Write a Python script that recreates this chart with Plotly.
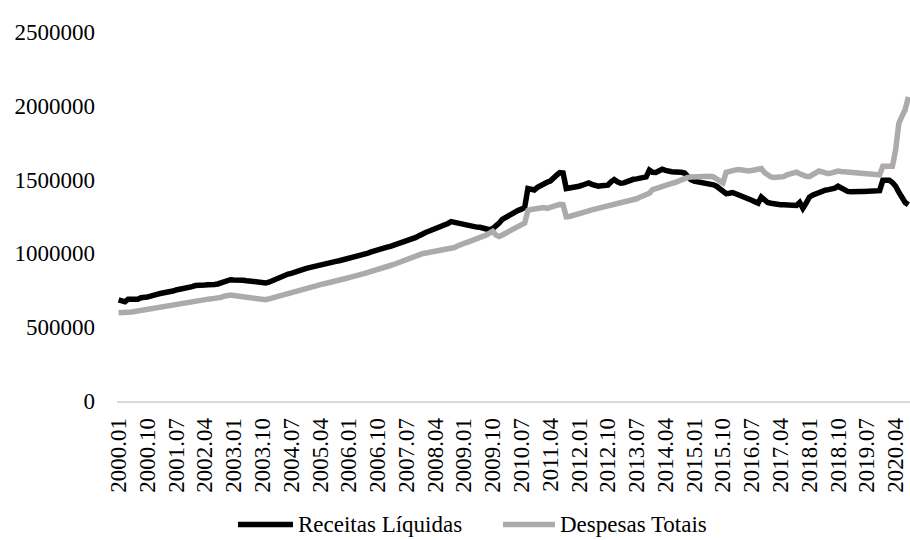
import plotly.graph_objects as go

# Monthly periods 2000.01 .. 2020.08
years = list(range(2000, 2021))
months = [f"{y}.{m:02d}" for y in years for m in range(1, 13)][:248]

# Receitas Líquidas, one row per year
receitas = [
    685000, 680000, 672000, 690000, 688000, 684000, 690000, 700000, 698000, 705000, 710000, 712000,
    722000, 728000, 730000, 736000, 740000, 745000, 752000, 755000, 760000, 762000, 768000, 775000,
    782000, 786000, 784000, 786000, 788000, 785000, 790000, 793000, 800000, 812000, 818000, 822000,
    820000, 822000, 818000, 818000, 815000, 812000, 810000, 808000, 803000, 800000, 800000, 805000,
    815000, 828000, 838000, 845000, 852000, 860000, 865000, 870000, 878000, 885000, 893000, 900000,
    906000, 910000, 915000, 920000, 926000, 930000, 935000, 940000, 946000, 950000, 955000, 960000,
    965000, 970000, 975000, 982000, 989000, 995000, 1002000, 1010000, 1018000, 1025000, 1030000, 1036000,
    1042000, 1048000, 1055000, 1060000, 1068000, 1075000, 1082000, 1088000, 1095000, 1108000, 1120000, 1135000,
    1142000, 1150000, 1158000, 1166000, 1174000, 1181000, 1192000, 1203000, 1215000, 1210000, 1203000, 1198000,
    1192000, 1186000, 1182000, 1180000, 1178000, 1177000, 1172000, 1165000, 1160000, 1168000, 1185000, 1205000,
    1231000, 1245000, 1258000, 1270000, 1282000, 1292000, 1300000, 1312000, 1440000, 1435000, 1430000, 1448000,
    1463000, 1472000, 1482000, 1490000, 1505000, 1530000, 1548000, 1545000, 1440000, 1442000, 1445000, 1448000,
    1455000, 1462000, 1470000, 1478000, 1468000, 1458000, 1455000, 1458000, 1460000, 1462000, 1485000, 1500000,
    1485000, 1475000, 1478000, 1488000, 1495000, 1502000, 1505000, 1510000, 1515000, 1518000, 1565000, 1550000,
    1548000, 1560000, 1570000, 1562000, 1555000, 1553000, 1552000, 1554000, 1550000, 1545000, 1520000, 1500000,
    1490000, 1486000, 1482000, 1480000, 1478000, 1475000, 1465000, 1455000, 1440000, 1425000, 1405000, 1408000,
    1412000, 1404000, 1396000, 1390000, 1384000, 1372000, 1360000, 1350000, 1340000, 1382000, 1365000, 1345000,
    1340000, 1335000, 1332000, 1330000, 1330000, 1328000, 1326000, 1325000, 1325000, 1345000, 1305000, 1340000,
    1380000, 1395000, 1405000, 1415000, 1420000, 1428000, 1432000, 1435000, 1442000, 1455000, 1440000, 1425000,
    1420000, 1418000, 1416000, 1418000, 1420000, 1420000, 1422000, 1420000, 1422000, 1425000, 1425000, 1495000,
    1498000, 1495000, 1480000, 1455000, 1415000, 1375000, 1345000, 1330000,
]

# Despesas Totais, one row per year
despesas = [
    598000, 597000, 600000, 602000, 603000, 606000, 610000, 615000, 618000, 620000, 624000, 627000,
    632000, 635000, 638000, 642000, 645000, 648000, 652000, 656000, 660000, 665000, 670000, 674000,
    678000, 682000, 685000, 688000, 690000, 692000, 694000, 696000, 702000, 710000, 716000, 718000,
    715000, 712000, 708000, 704000, 700000, 697000, 694000, 691000, 688000, 685000, 686000, 692000,
    698000, 705000, 712000, 718000, 725000, 732000, 740000, 748000, 753000, 758000, 765000, 770000,
    775000, 780000, 784000, 788000, 793000, 798000, 802000, 807000, 812000, 818000, 824000, 830000,
    836000, 840000, 845000, 850000, 858000, 865000, 872000, 880000, 888000, 895000, 902000, 908000,
    912000, 918000, 925000, 932000, 940000, 948000, 956000, 965000, 975000, 982000, 990000, 998000,
    1002000, 1006000, 1010000, 1012000, 1015000, 1018000, 1022000, 1025000, 1030000, 1040000, 1050000, 1062000,
    1068000, 1075000, 1082000, 1090000, 1098000, 1105000, 1115000, 1125000, 1138000, 1150000, 1125000, 1115000,
    1125000, 1138000, 1150000, 1162000, 1175000, 1185000, 1195000, 1205000, 1290000, 1298000, 1302000, 1300000,
    1305000, 1310000, 1305000, 1312000, 1318000, 1328000, 1332000, 1330000, 1248000, 1250000, 1255000, 1262000,
    1268000, 1275000, 1282000, 1288000, 1295000, 1300000, 1305000, 1310000, 1316000, 1322000, 1328000, 1332000,
    1336000, 1340000, 1345000, 1350000, 1356000, 1362000, 1370000, 1380000, 1390000, 1400000, 1408000, 1432000,
    1440000, 1450000, 1460000, 1465000, 1470000, 1475000, 1480000, 1490000, 1505000, 1510000, 1515000, 1518000,
    1520000, 1522000, 1520000, 1518000, 1520000, 1522000, 1518000, 1505000, 1492000, 1478000, 1550000, 1558000,
    1562000, 1566000, 1568000, 1562000, 1560000, 1558000, 1562000, 1568000, 1570000, 1575000, 1548000, 1530000,
    1518000, 1515000, 1514000, 1512000, 1520000, 1532000, 1540000, 1545000, 1550000, 1540000, 1528000, 1522000,
    1520000, 1535000, 1545000, 1558000, 1552000, 1545000, 1540000, 1545000, 1552000, 1558000, 1555000, 1552000,
    1550000, 1548000, 1546000, 1545000, 1544000, 1542000, 1540000, 1538000, 1536000, 1534000, 1532000, 1590000,
    1590000, 1592000, 1590000, 1700000, 1880000, 1930000, 1975000, 2060000,
]

series_names = ["Receitas Líquidas", "Despesas Totais"]
series_colors = ["#000000", "#AEAAAA"]

# Every ninth month is labelled on the category axis
tick_labels = months[::9]
y_ticks = [0, 500000, 1000000, 1500000, 2000000, 2500000]

FONT = "'Times New Roman', 'Liberation Serif', serif"
TICK_FONT = dict(family=FONT, size=23, color="#000000")
LINE_W = 5.5

fig = go.Figure()
for name, values, color in zip(series_names, [receitas, despesas], series_colors):
    fig.add_trace(go.Scatter(
        x=months, y=values, mode="lines", name=name,
        line=dict(color=color, width=LINE_W), showlegend=False,
    ))

# Legend below the axis: long key lines followed by the series names
legend_y = -0.335
legend_keys = [(0.1526, 0.2219), (0.4868, 0.5523)]
for (x0, x1), name, color in zip(legend_keys, series_names, series_colors):
    fig.add_shape(type="line", xref="paper", yref="paper",
                  x0=x0, x1=x1, y0=legend_y, y1=legend_y,
                  line=dict(color=color, width=LINE_W))
    fig.add_annotation(xref="paper", yref="paper", x=x1 + 0.004, y=legend_y,
                       xanchor="left", yanchor="middle", text=name,
                       showarrow=False, font=TICK_FONT)

fig.update_layout(
    width=910, height=540,
    margin=dict(l=117, r=0, t=32, b=139, autoexpand=False),
    paper_bgcolor="white", plot_bgcolor="white",
    font=TICK_FONT,
    showlegend=False,
    xaxis=dict(
        type="category", categoryorder="array", categoryarray=months,
        range=[-0.5, len(months) - 0.5], automargin=False,
        tickmode="array", tickvals=tick_labels, ticktext=tick_labels,
        tickangle=-90, ticks="", showgrid=False, zeroline=False,
        showline=True, linecolor="#D9D9D9", linewidth=1.5,
        ticklabelstandoff=6,
        tickfont=TICK_FONT,
    ),
    yaxis=dict(
        range=[0, 2500000], tickmode="array", tickvals=y_ticks,
        ticktext=[str(v) for v in y_ticks], automargin=False,
        showgrid=False, zeroline=False, showline=False, ticks="",
        ticklabelstandoff=21,
        tickfont=TICK_FONT,
    ),
)

fig.write_html("out.html")
